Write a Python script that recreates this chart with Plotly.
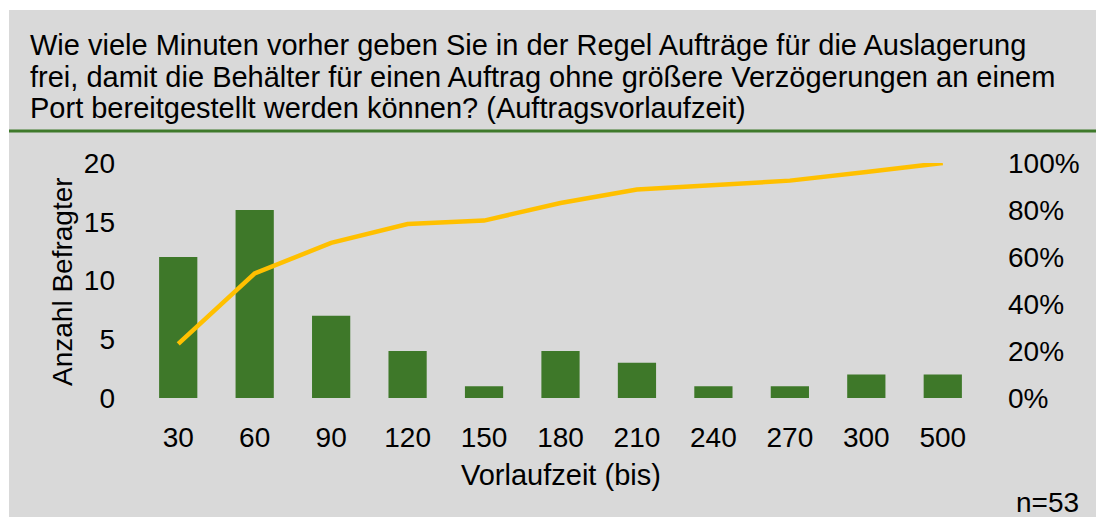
import plotly.graph_objects as go

categories = ["30", "60", "90", "120", "150", "180", "210", "240", "270", "300", "500"]
counts = [12, 16, 7, 4, 1, 4, 3, 1, 1, 2, 2]
cumulative_pct = [0.23, 0.53, 0.66, 0.74, 0.755, 0.83, 0.887, 0.906, 0.925, 0.962, 1.0]
left_ticks = [0, 5, 10, 15, 20]
right_ticks = [0, 0.2, 0.4, 0.6, 0.8, 1.0]
right_tick_labels = ["0%", "20%", "40%", "60%", "80%", "100%"]

title_lines = [
    "Wie viele Minuten vorher geben Sie in der Regel Aufträge für die Auslagerung",
    "frei, damit die Behälter für einen Auftrag ohne größere Verzögerungen an einem",
    "Port bereitgestellt werden können? (Auftragsvorlaufzeit)",
]
title_line_y = [45, 77, 108]

W, H = 1096, 517
L, R, T, B = 140, 981, 163, 398
PW, PH = R - L, B - T

def px(x):
    return (x - L) / PW

def py(y):
    return (B - y) / PH

FONT = "Liberation Sans, Arial, sans-serif"
BAR = "#3E7829"
LINE = "#FFC000"
BG = "#D9D9D9"

fig = go.Figure()
fig.add_trace(go.Bar(x=categories, y=counts, marker=dict(color=BAR, line=dict(width=0)),
                     width=0.5, yaxis="y", showlegend=False))
fig.add_trace(go.Scatter(x=categories, y=cumulative_pct, mode="lines",
                         line=dict(color=LINE, width=4.5), yaxis="y2", showlegend=False))

annotations = []
for line_text, ly in zip(title_lines, title_line_y):
    annotations.append(dict(text=line_text, xref="paper", yref="paper", x=px(28), y=py(ly),
                            xanchor="left", yanchor="middle", align="left", showarrow=False,
                            font=dict(size=29, family=FONT)))
annotations += [
    dict(text="Anzahl Befragter", xref="paper", yref="paper", x=px(62), y=py(282),
         xanchor="center", yanchor="middle", textangle=-90, showarrow=False,
         font=dict(size=28, family=FONT)),
    dict(text="Vorlaufzeit (bis)", xref="paper", yref="paper", x=px(561), y=py(475),
         xanchor="center", yanchor="middle", showarrow=False,
         font=dict(size=29, family=FONT)),
    dict(text="n=53", xref="paper", yref="paper", x=px(1081), y=py(503),
         xanchor="right", yanchor="middle", showarrow=False,
         font=dict(size=28, family=FONT)),
]

fig.update_layout(
    width=W, height=H,
    margin=dict(l=L, r=W - R, t=T, b=H - B, pad=0),
    paper_bgcolor=BG, plot_bgcolor=BG,
    font=dict(family=FONT, size=28, color="#000000"),
    xaxis=dict(type="category", range=[-0.5, 10.5], showgrid=False, zeroline=False,
               showline=False, ticks="", ticklabelstandoff=20,
               tickfont=dict(size=28)),
    yaxis=dict(range=[0, 20], tickvals=left_ticks, showgrid=False, zeroline=False,
               showline=False, ticks="", ticklabelstandoff=24, tickfont=dict(size=28)),
    yaxis2=dict(range=[0, 1], overlaying="y", side="right", tickvals=right_ticks,
                ticktext=right_tick_labels, showgrid=False, zeroline=False,
                showline=False, ticks="", ticklabelstandoff=26, tickfont=dict(size=28)),
    shapes=[
        dict(type="rect", xref="paper", yref="paper", x0=px(0), x1=px(W), y0=py(0), y1=py(10),
             fillcolor="#FFFFFF", line=dict(width=0), layer="below"),
        dict(type="rect", xref="paper", yref="paper", x0=px(0), x1=px(9), y0=py(0), y1=py(H),
             fillcolor="#FFFFFF", line=dict(width=0), layer="below"),
        dict(type="line", xref="paper", yref="paper", x0=px(9), x1=px(W), y0=py(131), y1=py(131),
             line=dict(color="#3F7A2B", width=3)),
    ],
    annotations=annotations,
)

fig.write_html(
    "out.html",
    config={"displayModeBar": False},
    post_script="document.body.style.margin='0';document.body.style.padding='0';"
                "document.body.style.overflow='hidden';",
)
